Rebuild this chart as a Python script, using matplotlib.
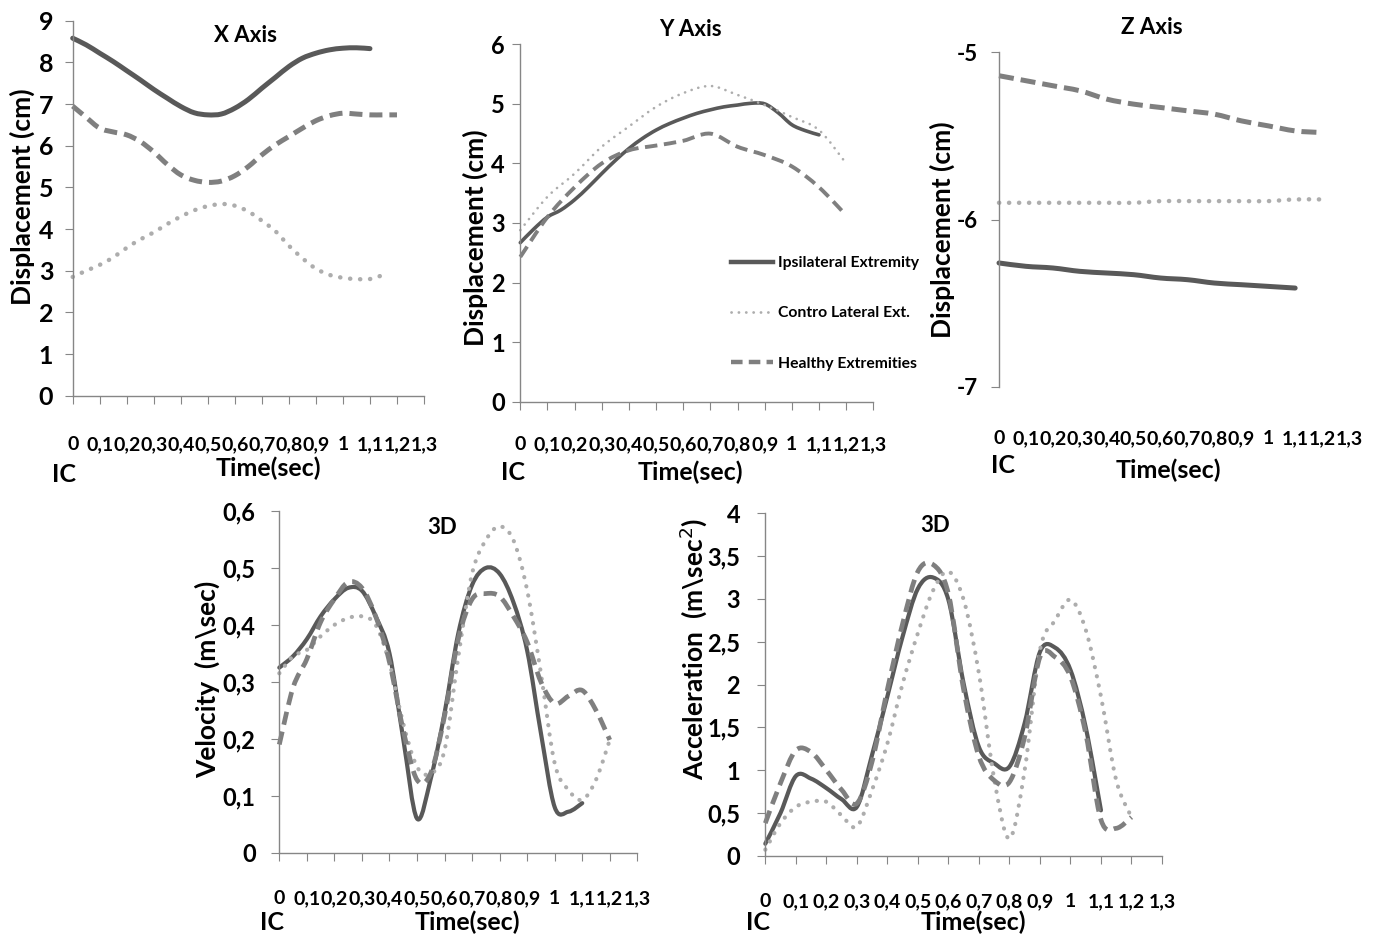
import numpy as np
import matplotlib
matplotlib.use("Agg")
import matplotlib.pyplot as plt
from matplotlib.path import Path
from matplotlib.patches import PathPatch

# time axis labels (comma decimals, as in the original)
time_ticks = [0, 0.1, 0.2, 0.3, 0.4, 0.5, 0.6, 0.7, 0.8, 0.9, 1.0, 1.1, 1.2, 1.3]
time_labels = ["0", "0,1", "0,2", "0,3", "0,4", "0,5", "0,6", "0,7", "0,8", "0,9", "1", "1,1", "1,2", "1,3"]

series_names = ["Ipsilateral Extremity", "Contro Lateral Ext.", "Healthy Extremities"]

# X axis displacement (cm), every 0.05 s
t_x_ipsi = np.arange(23) * 0.05
x_ipsi = [8.58, 8.42, 8.22, 8.02, 7.8, 7.58, 7.35, 7.14, 6.94, 6.79, 6.74, 6.76, 6.9,
          7.11, 7.38, 7.64, 7.9, 8.1, 8.22, 8.3, 8.34, 8.35, 8.33]
t_x_contra = np.arange(24) * 0.05
x_contra = [2.85, 3.0, 3.14, 3.32, 3.55, 3.75, 3.92, 4.12, 4.3, 4.45, 4.55, 4.6, 4.56,
            4.42, 4.2, 3.95, 3.6, 3.3, 3.05, 2.9, 2.83, 2.8, 2.8, 2.9]
t_x_healthy = np.arange(25) * 0.05
x_healthy = [6.95, 6.68, 6.42, 6.33, 6.26, 6.1, 5.85, 5.55, 5.3, 5.17, 5.12, 5.15, 5.28,
             5.5, 5.78, 6.02, 6.22, 6.42, 6.6, 6.72, 6.78, 6.76, 6.74, 6.74, 6.74]

# Y axis displacement (cm)
t_y_ipsi = np.arange(23) * 0.05
y_ipsi = [2.67, 2.9, 3.1, 3.22, 3.39, 3.6, 3.83, 4.05, 4.25, 4.42, 4.56, 4.67, 4.76,
          4.84, 4.9, 4.95, 4.98, 5.01, 5.0, 4.85, 4.65, 4.55, 4.48]
t_y_other = np.arange(13) * 0.1
y_contra = [2.88, 3.44, 3.83, 4.28, 4.62, 4.95, 5.18, 5.3, 5.15, 4.98, 4.78, 4.56, 4.0]
y_healthy = [2.43, 3.1, 3.6, 4.0, 4.22, 4.3, 4.38, 4.5, 4.28, 4.14, 3.95, 3.6, 3.13]

# Z axis displacement (cm)
t_z_ipsi = np.arange(12) * 0.1
z_ipsi = [-6.26, -6.28, -6.29, -6.31, -6.32, -6.33, -6.35, -6.36, -6.38, -6.39, -6.4, -6.41]
t_z_other = np.arange(13) * 0.1
z_contra = [-5.9, -5.9, -5.9, -5.9, -5.9, -5.9, -5.89, -5.89, -5.89, -5.89, -5.89, -5.88, -5.88]
z_healthy = [-5.14, -5.17, -5.2, -5.23, -5.28, -5.31, -5.33, -5.35, -5.37, -5.41, -5.44, -5.47, -5.48]

# 3D velocity (m\sec)
t_v_ipsi = np.arange(23) * 0.05
v_ipsi = [0.325, 0.345, 0.375, 0.415, 0.445, 0.465, 0.46, 0.415, 0.35, 0.2, 0.06, 0.13,
          0.245, 0.385, 0.47, 0.5, 0.49, 0.44, 0.355, 0.21, 0.08, 0.072, 0.087]
t_v_other = np.arange(25) * 0.05
v_contra = [0.315, 0.345, 0.356, 0.38, 0.4, 0.412, 0.415, 0.4, 0.333, 0.227, 0.151, 0.139,
            0.18, 0.344, 0.49, 0.549, 0.573, 0.549, 0.461, 0.315, 0.157, 0.11, 0.093, 0.128, 0.198]
v_healthy = [0.19, 0.29, 0.34, 0.405, 0.445, 0.475, 0.465, 0.415, 0.335, 0.215, 0.128, 0.14,
             0.24, 0.375, 0.445, 0.455, 0.45, 0.415, 0.37, 0.3, 0.262, 0.275, 0.285, 0.25, 0.198]

# 3D acceleration (m\sec^2)
t_a_ipsi = np.arange(23) * 0.05
a_ipsi = [0.14, 0.5, 0.93, 0.9, 0.79, 0.66, 0.57, 1.18, 1.86, 2.56, 3.12, 3.25, 2.99,
          2.01, 1.27, 1.08, 1.04, 1.55, 2.38, 2.43, 2.17, 1.5, 0.53]
t_a_other = np.arange(25) * 0.05
a_contra = [0.07, 0.38, 0.57, 0.63, 0.63, 0.47, 0.34, 0.77, 1.31, 2.01, 2.6, 3.1, 3.32,
            2.99, 2.13, 0.9, 0.2, 1.0, 2.4, 2.75, 2.99, 2.64, 1.86, 0.88, 0.45]
a_healthy = [0.38, 0.85, 1.23, 1.21, 1.0, 0.77, 0.61, 1.1, 1.94, 2.71, 3.32, 3.4, 3.06,
             1.94, 1.16, 0.88, 0.86, 1.39, 2.32, 2.32, 2.09, 1.43, 0.42, 0.32, 0.45]

W, H = 1381, 944
FONT = ["Lato", "DejaVu Sans"]
AXIS_GREY = "#868686"
C_IPSI = "#595959"
C_CONTRA = "#ADADAD"
C_HEALTHY = "#7F7F7F"


def box(left, right, top, bottom):
    return [left / W, 1 - bottom / H, (right - left) / W, (bottom - top) / H]


def fp(x, y):
    return (x / W, 1 - y / H)


fig = plt.figure(figsize=(W / 100, H / 100), dpi=100)


def setup(ax, ylim, yticks, ylabels, ysize, ypad, xpad, title, title_xy, ylab, ylab_xy,
          time_xy, ic_xy, show_bottom=True):
    ax.set_xlim(0, 1.3)
    ax.set_ylim(*ylim)
    for s in ["top", "right"]:
        ax.spines[s].set_visible(False)
    for s in ["left", "bottom"]:
        ax.spines[s].set_color(AXIS_GREY)
        ax.spines[s].set_linewidth(1.0)
    ax.spines["bottom"].set_visible(show_bottom)
    ax.set_xticks(time_ticks)
    ax.set_xticklabels(time_labels, fontfamily=FONT, fontweight="bold", fontsize=14)
    ax.set_yticks(yticks)
    ax.set_yticklabels(ylabels, fontfamily=FONT, fontweight="bold", fontsize=ysize)
    ax.tick_params(axis="y", direction="out", length=6, color=AXIS_GREY, pad=ypad)
    ax.tick_params(axis="x", direction="out", length=6 if show_bottom else 0,
                   color=AXIS_GREY, pad=xpad)
    ax.patch.set_alpha(0)
    fig.text(*fp(*title_xy), title, ha="center", va="center",
             fontfamily=FONT, fontweight="bold", fontsize=16)
    ax.set_ylabel(ylab, fontfamily=FONT, fontweight="bold", fontsize=19)
    ax.yaxis.label.set_va("center")
    ax.yaxis.set_label_coords(*fp(*ylab_xy), transform=fig.transFigure)
    ax.set_xlabel("Time(sec)", fontfamily=FONT, fontweight="bold", fontsize=18)
    ax.xaxis.label.set_va("center")
    ax.xaxis.set_label_coords(*fp(*time_xy), transform=fig.transFigure)
    fig.text(*fp(*ic_xy), "IC", ha="center", va="center",
             fontfamily=FONT, fontweight="bold", fontsize=18)


def smooth_path(t, y):
    # Excel-style smoothed line: cubic Bezier segments through the data points
    pts = np.column_stack([t, y]).astype(float)
    n = len(pts)
    verts = [pts[0]]
    codes = [Path.MOVETO]
    for i in range(n - 1):
        p0 = pts[i - 1] if i > 0 else pts[i]
        p1, p2 = pts[i], pts[i + 1]
        p3 = pts[i + 2] if i + 2 < n else pts[i + 1]
        verts += [p1 + (p2 - p0) / 6.0, p2 - (p3 - p1) / 6.0, p2]
        codes += [Path.CURVE4] * 3
    return Path(verts, codes)


def draw(ax, t, y, kind, lw, dash=None):
    if kind == "solid":
        style = dict(edgecolor=C_IPSI, linestyle="-", capstyle="round")
    elif kind == "dotted":
        style = dict(edgecolor=C_CONTRA, linestyle=(0, dash or (0.05, 2.2)), capstyle="round")
    else:
        style = dict(edgecolor=C_HEALTHY, linestyle=(0, dash or (2.6, 1.4)), capstyle="butt")
    ax.add_patch(PathPatch(smooth_path(t, y), fill=False, lw=lw, clip_on=False,
                           joinstyle="round", **style))


# X axis
ax1 = fig.add_axes(box(72.7, 424, 20.7, 395.7))
draw(ax1, t_x_ipsi, x_ipsi, "solid", 3.6)
draw(ax1, t_x_contra, x_contra, "dotted", 3.2)
draw(ax1, t_x_healthy, x_healthy, "dashed", 3.6)
setup(ax1, (0, 9), range(10), [str(i) for i in range(10)], 18, 8, 23,
      "X Axis", (245, 35), "Displacement (cm)", (22, 197), (268, 468), (64, 474))

# Y axis
ax2 = fig.add_axes(box(520.3, 873.3, 44.3, 401.7))
draw(ax2, t_y_ipsi, y_ipsi, "solid", 2.6)
draw(ax2, t_y_other, y_contra, "dotted", 1.9, (0.05, 2.6))
draw(ax2, t_y_other, y_healthy, "dashed", 2.8, (3.2, 1.7))
setup(ax2, (0, 6), range(7), [str(i) for i in range(7)], 17, 5, 19,
      "Y Axis", (690, 30), "Displacement (cm)", (475, 238), (690, 472), (513, 472))
l1, = ax2.plot([], [], color=C_IPSI, lw=3.2)
l2, = ax2.plot([], [], color=C_CONTRA, lw=2.0, linestyle=(0, (0.05, 2.6)), dash_capstyle="round")
l3, = ax2.plot([], [], color=C_HEALTHY, lw=3.2, linestyle=(0, (2.6, 1.4)))
ax2.legend([l1, l2, l3], series_names, loc="upper left", frameon=False,
           bbox_to_anchor=fp(731, 256), bbox_transform=fig.transFigure,
           borderpad=0, borderaxespad=0, handlelength=2.7, handletextpad=0.3,
           labelspacing=2.32, prop={"family": FONT, "weight": "bold", "size": 11.3})

# Z axis
ax3 = fig.add_axes(box(999, 1349, 52.3, 386.7))
draw(ax3, t_z_ipsi, z_ipsi, "solid", 3.6)
draw(ax3, t_z_other, z_contra, "dotted", 3.2)
draw(ax3, t_z_other, z_healthy, "dashed", 3.6, (3.0, 1.4))
setup(ax3, (-7, -5), [-7, -6, -5], ["-7", "-6", "-5"], 16, 9, 31,
      "Z Axis", (1152, 28), "Displacement (cm)", (942, 230), (1168, 470), (1003, 465),
      show_bottom=False)

# 3D velocity
ax4 = fig.add_axes(box(279.3, 637.3, 511, 852.7))
draw(ax4, t_v_ipsi, v_ipsi, "solid", 3.0)
draw(ax4, t_v_other, v_contra, "dotted", 3.0)
draw(ax4, t_v_other, v_healthy, "dashed", 3.4, (2.8, 1.5))
setup(ax4, (0, 0.6), [0, 0.1, 0.2, 0.3, 0.4, 0.5, 0.6],
      ["0", "0,1", "0,2", "0,3", "0,4", "0,5", "0,6"], 17, 11, 21,
      "3D", (442, 527), "Velocity  (m\\sec)", (207, 679), (467, 922), (272, 922))

# 3D acceleration
ax5 = fig.add_axes(box(765.3, 1162, 513.3, 855.7))
draw(ax5, t_a_ipsi, a_ipsi, "solid", 3.0)
draw(ax5, t_a_other, a_contra, "dotted", 3.0)
draw(ax5, t_a_other, a_healthy, "dashed", 3.4, (2.8, 1.5))
setup(ax5, (0, 4), [0, 0.5, 1, 1.5, 2, 2.5, 3, 3.5, 4],
      ["0", "0,5", "1", "1,5", "2", "2,5", "3", "3,5", "4"], 17, 12, 21,
      "3D", (935, 525), "Acceleration  (m\\sec$^{2}$)", (693, 649), (973, 922), (758, 922))

fig.savefig("out.png", dpi=100)
